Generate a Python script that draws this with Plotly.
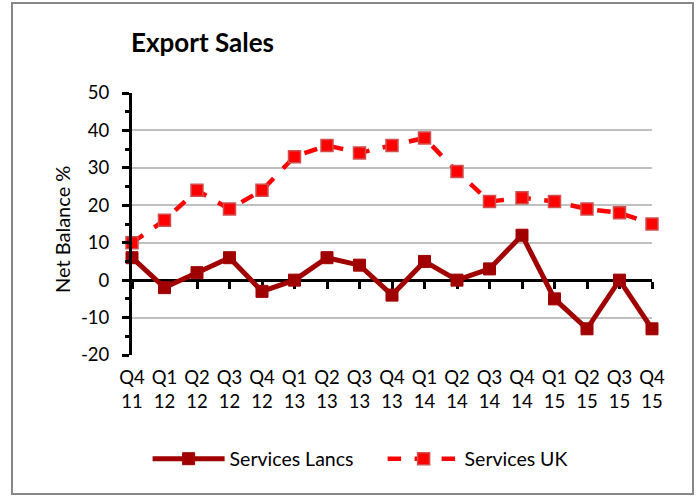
import plotly.graph_objects as go

# quarter labels (two-line) along the x axis
quarters = ["Q4", "Q1", "Q2", "Q3", "Q4", "Q1", "Q2", "Q3", "Q4",
            "Q1", "Q2", "Q3", "Q4", "Q1", "Q2", "Q3", "Q4"]
years = ["11", "12", "12", "12", "12", "13", "13", "13", "13",
         "14", "14", "14", "14", "15", "15", "15", "15"]
categories = [q + "<br>" + y for q, y in zip(quarters, years)]

# net balance % per series
services_lancs = [6, -2, 2, 6, -3, 0, 6, 4, -4, 5, 0, 3, 12, -5, -13, 0, -13]
services_uk = [10, 16, 24, 19, 24, 33, 36, 34, 36, 38, 29, 21, 22, 21, 19, 18, 15]

# y tick labels (plain hyphen minus like the original)
y_ticks = [-20, -10, 0, 10, 20, 30, 40, 50]
y_tick_labels = ["-20", "-10", "0", "10", "20", "30", "40", "50"]

FONT = "Lato, Calibri, Carlito, sans-serif"
LANCS_COLOR = "#A00000"
UK_COLOR = "#FF0000"

fig = go.Figure()

fig.add_trace(go.Scatter(
    x=categories, y=services_uk, name="Services UK",
    mode="lines+markers", cliponaxis=False,
    line=dict(color=UK_COLOR, width=4.5, dash="dash"),
    marker=dict(symbol="square", size=12, color=UK_COLOR,
                line=dict(color="#D05050", width=1.5)),
))

fig.add_trace(go.Scatter(
    x=categories, y=services_lancs, name="Services Lancs",
    xaxis="x2", mode="lines+markers", cliponaxis=False,
    line=dict(color=LANCS_COLOR, width=5),
    marker=dict(symbol="square", size=12, color=LANCS_COLOR,
                line=dict(color=LANCS_COLOR, width=1)),
))

n = len(categories)

fig.update_layout(
    width=699, height=496,
    margin=dict(l=132, r=47, t=93, b=141),
    paper_bgcolor="white", plot_bgcolor="white",
    font=dict(family=FONT, size=18, color="black"),
    showlegend=True,
    legend=dict(orientation="h", x=0.03, xanchor="left", y=-0.397, yanchor="middle",
                traceorder="reversed", font=dict(size=19.5), itemwidth=72,
                entrywidth=148, bgcolor="rgba(0,0,0,0)"),
    xaxis=dict(type="category", range=[0, n - 1], showgrid=False, showline=False,
               zeroline=False, ticks="outside", ticklen=6,
               tickcolor="rgba(0,0,0,0)", tickfont=dict(size=18.5)),
    xaxis2=dict(type="category", range=[0, n - 1], overlaying="x", anchor="free",
                position=20 / 70, showgrid=False, showline=True, linecolor="black",
                linewidth=3, ticks="outside", ticklen=7, tickwidth=2.5,
                tickcolor="black", showticklabels=False, layer="below traces"),
    yaxis=dict(range=[-20, 50], tickvals=y_ticks, ticktext=y_tick_labels,
               showgrid=True, gridcolor="#C0C0C0",
               gridwidth=1.5, zeroline=False, showline=True, linecolor="black",
               linewidth=3, ticks="outside", ticklen=7, tickwidth=2.5,
               tickcolor="black", ticklabelstandoff=9, tickfont=dict(size=18.5),
               minor=dict(dtick=5, ticks="outside", ticklen=4, tickwidth=2.5,
                          tickcolor="black", showgrid=False)),
    annotations=[
        dict(text="<b>Export Sales</b>", xref="paper", yref="paper",
             x=-0.005, y=(355 - 42) / 262, xanchor="left", yanchor="middle",
             showarrow=False, font=dict(size=26, family=FONT)),
        dict(text="Net Balance %", xref="paper", yref="paper", textangle=-90,
             x=(62 - 132) / 520, y=(355 - 230) / 262, xanchor="center",
             yanchor="middle", showarrow=False, font=dict(size=20, family=FONT)),
    ],
    shapes=[
        dict(type="rect", xref="paper", yref="paper",
             x0=(12 - 132) / 520, x1=(693 - 132) / 520,
             y0=(355 - 494) / 262, y1=(355 - 3) / 262,
             line=dict(color="#888888", width=2), layer="below"),
    ],
)

fig.write_html("out.html", config={"displayModeBar": False},
               post_script="document.body.style.margin='0';")
